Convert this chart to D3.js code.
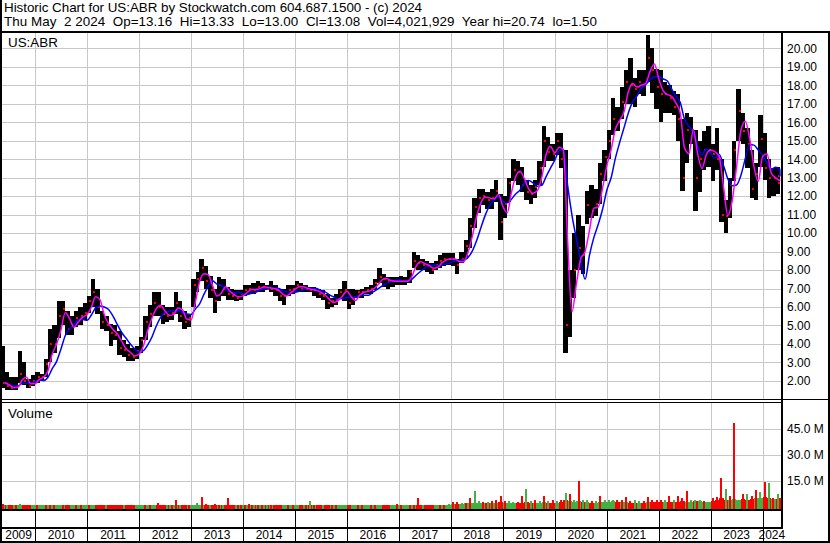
<!DOCTYPE html>
<html>
<head>
<meta charset="utf-8">
<script src="https://cdn.jsdelivr.net/npm/d3@7"></script>
<style>
  body { margin: 0; background: #fff; }
  svg { display: block; font-family: Arial, "Liberation Sans", sans-serif; }
  .hdr { font-size: 13.4px; }
  .axis text { font-size: 12px; fill: #000; font-family: Arial, "Liberation Sans", sans-serif; }
</style>
</head>
<body>
<div id="chart-area"></div>
<script>
/*
*    Historic chart for US:ABR, monthly bars May 2009 - May 2024
*/

let titleLine = "Historic Chart for US:ABR by Stockwatch.com 604.687.1500 - (c) 2024";
let infoLine = "Thu May  2 2024  Op=13.16  Hi=13.33  Lo=13.00  Cl=13.08  Vol=4,021,929  Year hi=20.74  lo=1.50";

// one value per month, first month is May 2009
let high = [
  3.9, 2.5, 2.2, 2.2, 3.6, 3.0, 2.1, 2.3,
  2.5, 2.4, 3.2, 4.8, 5.0, 6.3, 6.3, 5.8, 5.5, 5.8, 6.0, 6.2,
  6.6, 7.5, 7.0, 5.8, 5.5, 5.1, 5.0, 4.7, 4.2, 4.0, 3.8, 3.9,
  4.4, 5.5, 6.1, 6.8, 6.8, 6.1, 6.0, 6.0, 6.8, 6.3, 5.8, 5.6,
  7.5, 7.9, 8.6, 8.2, 7.7, 7.0, 7.6, 7.5, 7.1, 7.0, 6.9, 6.9,
  7.2, 7.2, 7.3, 7.4, 7.3, 7.2, 7.4, 7.2, 7.0, 7.0, 7.2, 7.2,
  7.4, 7.3, 7.2, 7.1, 7.1, 7.0, 6.9, 6.7, 6.5, 6.7, 7.0, 7.4,
  7.0, 7.0, 6.9, 7.0, 7.1, 7.2, 7.5, 8.1, 7.8, 7.6, 7.6, 7.6,
  7.7, 7.6, 8.0, 9.0, 8.8, 8.6, 8.5, 8.4, 8.5, 8.8, 8.9, 8.9,
  8.9, 8.6, 9.0, 9.6, 10.8, 11.9, 12.4, 12.4, 12.2, 12.4, 12.9, 12.1,
  12.0, 13.0, 14.0, 13.9, 13.6, 12.9, 12.6, 12.9, 13.9, 15.8, 15.2, 14.8,
  15.4, 15.4, 14.5, 8.0, 10.0, 11.0, 10.4, 12.3, 12.6, 12.4, 13.8, 14.5,
  15.6, 17.3, 16.8, 17.9, 18.8, 19.5, 18.4, 18.8, 18.8, 20.7, 20.0, 18.9,
  18.8, 18.2, 18.0, 17.7, 17.5, 16.2, 16.5, 16.3, 15.6, 15.0, 15.5, 15.8,
  14.8, 15.7, 14.0, 11.8, 13.0, 15.0, 17.8, 16.5, 15.7, 14.5, 13.8, 16.4,
  15.4, 14.0, 13.5, 13.6, 13.3
];

let low = [
  1.6, 1.5, 1.5, 1.5, 1.9, 1.8, 1.6, 1.7,
  1.9, 2.0, 2.2, 3.0, 3.5, 4.3, 5.0, 4.5, 4.5, 4.9, 5.0, 5.3,
  5.7, 6.0, 5.6, 4.8, 4.7, 3.9, 4.2, 3.4, 3.3, 3.1, 3.1, 3.2,
  3.5, 4.2, 4.9, 5.5, 5.5, 5.1, 5.2, 5.3, 5.6, 5.2, 4.8, 4.9,
  6.0, 6.8, 7.4, 7.0, 6.5, 5.7, 6.3, 6.6, 6.4, 6.4, 6.3, 6.4,
  6.6, 6.7, 6.7, 6.8, 6.8, 6.9, 6.8, 6.6, 6.3, 6.1, 6.6, 6.7,
  6.8, 6.8, 6.8, 6.8, 6.6, 6.5, 6.4, 5.9, 6.0, 6.1, 6.5, 6.3,
  5.9, 6.1, 6.5, 6.5, 6.7, 6.7, 6.9, 7.3, 7.1, 7.0, 7.1, 7.2,
  7.2, 7.2, 7.3, 8.1, 8.0, 8.0, 7.9, 7.8, 8.0, 8.1, 8.2, 8.3,
  8.2, 7.8, 8.4, 8.6, 9.2, 10.3, 11.1, 11.5, 11.3, 11.3, 11.7, 9.6,
  10.8, 11.7, 12.8, 12.6, 12.2, 11.8, 11.6, 11.9, 12.6, 13.6, 13.9, 13.9,
  14.2, 13.5, 3.5, 4.4, 6.5, 8.0, 7.8, 10.5, 10.8, 10.9, 11.6, 12.8,
  14.0, 15.3, 15.5, 16.2, 17.0, 17.0, 16.8, 17.5, 17.4, 18.2, 17.6, 16.7,
  16.0, 16.5, 16.5, 16.4, 15.0, 12.3, 13.8, 14.8, 11.2, 12.2, 13.4, 13.6,
  12.8, 13.4, 10.6, 10.0, 10.8, 12.8, 15.0, 14.8, 13.5, 11.9, 11.8, 13.6,
  12.9, 11.9, 12.0, 12.1, 12.6
];

let close = [
  1.9, 1.7, 1.6, 1.7, 2.4, 2.0, 1.7, 2.0,
  2.2, 2.2, 2.9, 4.0, 4.0, 5.5, 5.9, 4.8, 5.0, 5.4, 5.5, 5.7,
  6.3, 6.8, 6.0, 5.2, 5.0, 4.6, 4.5, 3.8, 3.7, 3.4, 3.3, 3.6,
  4.2, 5.2, 5.6, 6.2, 6.0, 5.6, 5.5, 5.7, 6.2, 5.5, 5.2, 5.4,
  7.2, 7.5, 8.1, 7.4, 6.9, 6.3, 7.2, 7.0, 6.7, 6.6, 6.5, 6.7,
  6.9, 7.0, 6.9, 7.1, 7.1, 7.0, 7.0, 6.9, 6.6, 6.6, 6.9, 7.0,
  7.2, 7.0, 7.0, 6.9, 6.9, 6.7, 6.6, 6.2, 6.3, 6.4, 6.8, 6.9,
  6.2, 6.5, 6.8, 6.8, 6.9, 7.0, 7.3, 7.6, 7.5, 7.4, 7.4, 7.4,
  7.4, 7.4, 7.9, 8.5, 8.4, 8.3, 8.2, 8.0, 8.3, 8.5, 8.6, 8.6,
  8.6, 8.3, 8.6, 9.3, 10.4, 11.4, 11.9, 12.0, 11.8, 11.9, 12.3, 10.6,
  11.6, 12.7, 13.4, 13.3, 12.6, 12.2, 12.1, 12.5, 13.5, 15.0, 14.4, 14.3,
  15.0, 14.0, 5.0, 6.5, 8.0, 9.2, 8.8, 11.5, 11.2, 11.6, 13.2, 14.1,
  15.0, 16.2, 16.0, 17.1, 18.2, 18.0, 17.8, 18.2, 18.0, 19.5, 18.8, 17.9,
  17.5, 17.5, 17.3, 16.8, 16.2, 13.0, 15.6, 15.6, 13.0, 14.0, 14.5, 14.5,
  14.3, 14.0, 11.0, 10.9, 12.6, 14.5, 16.6, 15.5, 14.8, 12.4, 13.2, 15.1,
  13.5, 13.0, 13.0, 12.7, 13.1
];

// volume in millions: usual daily level and the biggest day of the month
let volBase = [
  0.8, 0.8, 0.8, 0.8, 0.8, 0.8, 0.8, 0.8,
  0.6, 0.6, 0.6, 0.6, 0.6, 0.6, 0.6, 0.6, 0.6, 0.6, 0.6, 0.6,
  0.6, 0.6, 0.6, 0.6, 0.6, 0.6, 0.6, 0.6, 0.6, 0.6, 0.6, 0.6,
  0.6, 0.6, 0.6, 0.6, 0.6, 0.6, 0.6, 0.6, 0.6, 0.6, 0.6, 0.6,
  0.7, 0.7, 0.8, 0.7, 0.7, 0.7, 0.7, 0.6, 0.7, 0.6, 0.6, 0.6,
  0.6, 0.6, 0.6, 0.6, 0.6, 0.6, 0.6, 0.6, 0.6, 0.6, 0.6, 0.6,
  0.6, 0.6, 0.6, 0.7, 0.6, 0.6, 0.6, 0.6, 0.6, 0.6, 0.6, 0.6,
  0.6, 0.6, 0.6, 0.6, 0.6, 0.6, 0.6, 0.6, 0.6, 0.6, 0.6, 0.6,
  0.6, 0.6, 0.6, 0.7, 0.7, 0.7, 0.7, 0.7, 0.8, 0.8, 0.9, 1.0,
  1.5, 1.5, 1.5, 1.8, 2.0, 2.2, 2.0, 2.0, 2.0, 2.2, 2.2, 2.5,
  2.2, 2.2, 2.0, 2.0, 2.2, 2.5, 2.0, 2.2, 2.2, 2.5, 2.2, 2.2,
  2.2, 2.5, 3.5, 3.0, 2.5, 3.0, 2.5, 2.5, 2.2, 2.2, 2.5, 2.5,
  2.5, 3.0, 2.8, 2.5, 2.5, 2.2, 2.2, 2.2, 2.2, 2.5, 2.5, 2.5,
  2.5, 2.5, 2.8, 2.5, 2.8, 3.0, 2.8, 2.5, 3.0, 3.0, 2.8, 2.8,
  3.0, 3.5, 5.0, 4.0, 3.5, 4.5, 4.0, 4.5, 4.0, 4.5, 5.0, 5.0,
  5.5, 5.0, 4.5, 4.5, 4.5
];

let volPeak = [
  1.6, 0.9, 0.8, 0.8, 1.6, 1.0, 0.8, 0.8,
  0.8, 0.9, 0.7, 0.8, 0.7, 0.8, 0.7, 0.6, 0.7, 0.6, 0.6, 0.6,
  0.7, 0.7, 0.7, 0.7, 0.7, 0.7, 0.7, 0.7, 0.7, 0.7, 0.7, 0.7,
  0.7, 0.7, 0.7, 0.8, 2.0, 0.8, 0.7, 0.8, 3.5, 0.8, 0.8, 0.8,
  1.0, 2.0, 5.6, 1.2, 1.0, 1.2, 0.9, 0.8, 5.0, 0.8, 0.8, 0.8,
  0.8, 1.2, 0.7, 0.7, 0.7, 0.7, 0.7, 0.7, 0.7, 0.7, 0.7, 0.7,
  0.7, 0.7, 0.7, 3.3, 0.7, 0.7, 0.7, 0.7, 0.7, 0.7, 0.7, 0.9,
  0.7, 0.7, 0.7, 0.7, 0.7, 0.7, 0.7, 0.7, 0.7, 0.7, 0.7, 1.2,
  0.7, 0.7, 0.7, 0.8, 5.0, 0.8, 0.7, 0.7, 0.8, 0.8, 1.0, 1.6,
  2.6, 2.6, 2.0, 2.2, 5.0, 8.8, 3.0, 2.5, 2.5, 3.0, 4.0, 6.0,
  3.0, 3.1, 2.5, 2.5, 6.3, 10.0, 3.0, 3.5, 3.0, 6.3, 3.0, 3.5,
  3.0, 4.0, 7.9, 7.0, 4.0, 14.9, 3.5, 3.5, 3.0, 3.0, 6.0, 3.5,
  3.5, 4.0, 4.0, 4.0, 5.2, 3.0, 3.5, 3.0, 3.0, 5.6, 3.5, 3.5,
  3.5, 3.5, 6.0, 3.5, 6.3, 5.0, 9.2, 3.5, 3.5, 3.5, 3.0, 2.8,
  5.0, 5.5, 16.2, 10.3, 6.0, 48.0, 4.0, 7.3, 7.3, 6.0, 9.6, 8.3,
  13.9, 13.4, 5.0, 7.3, 5.0
];

// 1 = up day (green), 0 = down day (red) for the biggest day
let volUp = [
  0, 1, 0, 0, 1, 0, 0, 1,
  0, 1, 0, 0, 0, 1, 0, 0, 1, 0, 0, 1,
  0, 1, 0, 0, 1, 0, 0, 0, 1, 0, 0, 1,
  1, 0, 0, 1, 0, 0, 1, 0, 0, 1, 0, 0,
  1, 1, 0, 0, 1, 0, 0, 1, 0, 0, 1, 0,
  0, 0, 1, 0, 0, 1, 0, 0, 0, 1, 0, 0,
  1, 0, 0, 1, 0, 0, 1, 0, 0, 0, 1, 1,
  0, 1, 0, 0, 1, 0, 0, 1, 0, 0, 1, 0,
  0, 1, 0, 0, 0, 1, 0, 0, 1, 0, 0, 1,
  0, 0, 1, 0, 0, 1, 1, 0, 1, 0, 0, 0,
  0, 1, 1, 0, 0, 1, 1, 0, 1, 0, 1, 0,
  1, 0, 1, 0, 1, 0, 1, 1, 0, 1, 0, 1,
  1, 1, 0, 0, 0, 0, 1, 1, 0, 0, 0, 0,
  0, 1, 0, 1, 0, 0, 0, 1, 1, 1, 0, 1,
  0, 0, 0, 1, 0, 0, 1, 0, 1, 0, 0, 1,
  0, 1, 0, 1, 0
];

let priceTicks = [2, 3, 4, 5, 6, 7, 8, 9, 10, 11, 12, 13, 14, 15, 16, 17, 18, 19, 20];
let volTicks = [15, 30, 45];
let years = d3.range(2009, 2025);

let x = d3.scaleTime().domain([new Date(2009, 4, 13), new Date(2024, 4, 2)]).range([2, 780]);
let y = d3.scaleLinear().domain([1, 20]).range([399.4, 48.3]);
let yv = d3.scaleLinear().domain([0, 45]).range([506.5, 428.5]);

let gridColor = "#c8c8c8";
let green = "#43b043";

let svg = d3.select("#chart-area").append("svg").attr("width", 830).attr("height", 543);

let defs = svg.append("defs");
defs.append("clipPath").attr("id", "clipPrice").append("rect").attr("x", 2).attr("y", 33).attr("width", 779).attr("height", 366);
defs.append("clipPath").attr("id", "clipVol").append("rect").attr("x", 2).attr("y", 403).attr("width", 779).attr("height", 106);

// header, stretched to the reference line widths so the double spaces show
svg.append("text").attr("class", "hdr").attr("x", 4).attr("y", 12)
    .attr("textLength", 418).attr("lengthAdjust", "spacing")
    .text(titleLine);
svg.append("text").attr("class", "hdr").attr("x", 4).attr("y", 26)
    .attr("textLength", 593).attr("lengthAdjust", "spacing")
    .attr("xml:space", "preserve").style("white-space", "pre")
    .text(infoLine);

// year boundaries
let yearStarts = years.slice(1).map(yr => new Date(yr, 0, 1));

// grid, price panel
let grid = svg.append("g").attr("shape-rendering", "crispEdges").attr("stroke", gridColor).attr("stroke-width", 1);
grid.selectAll(".hp").data(priceTicks).enter().append("line")
    .attr("x1", 2).attr("x2", 781)
    .attr("y1", d => Math.round(y(d)) + 0.5).attr("y2", d => Math.round(y(d)) + 0.5);
grid.selectAll(".vp").data(yearStarts).enter().append("line")
    .attr("x1", d => Math.round(x(d)) + 0.5).attr("x2", d => Math.round(x(d)) + 0.5)
    .attr("y1", 33).attr("y2", 399);
// grid, volume panel
grid.selectAll(".hv").data(volTicks).enter().append("line")
    .attr("x1", 2).attr("x2", 781)
    .attr("y1", d => Math.round(yv(d)) + 0.5).attr("y2", d => Math.round(yv(d)) + 0.5);
grid.selectAll(".vv").data(yearStarts).enter().append("line")
    .attr("x1", d => Math.round(x(d)) + 0.5).attr("x2", d => Math.round(x(d)) + 0.5)
    .attr("y1", 403).attr("y2", 509);

// monthly bars
let bars = close.map((c, i) => ({
  x0: Math.max(x(new Date(2009, 4 + i, 1)), 2),
  x1: Math.min(x(new Date(2009, 5 + i, 1)), 780),
  hi: high[i], lo: low[i], cl: c,
  up: i === 0 ? true : c >= close[i - 1]
}));

let price = svg.append("g").attr("clip-path", "url(#clipPrice)");

price.selectAll(".bar").data(bars).enter().append("rect")
    .attr("x", d => d.x0)
    .attr("width", d => d.x1 - d.x0)
    .attr("y", d => y(d.hi))
    .attr("height", d => y(d.lo) - y(d.hi))
    .attr("fill", "#000")
    .attr("shape-rendering", "crispEdges");

price.selectAll(".tick-cl").data(bars).enter().append("rect")
    .attr("x", d => d.x1 - 2)
    .attr("width", 2)
    .attr("y", d => y(d.cl) - 1)
    .attr("height", 2)
    .attr("fill", "red")
    .attr("shape-rendering", "crispEdges");

// moving averages of the monthly closes
function sma(arr, n) {
  return arr.map((d, i) => d3.mean(arr.slice(Math.max(0, i - n + 1), i + 1)));
}
let maShort = sma(close, 2);
let maLong = sma(close, 5);

let maLine = d3.line()
    .x((d, i) => bars[i].x1)
    .y(d => y(d))
    .curve(d3.curveMonotoneX);

price.append("path").attr("d", maLine(maLong))
    .attr("fill", "none").attr("stroke", "#0000ff").attr("stroke-width", 1.5);
price.append("path").attr("d", maLine(maShort))
    .attr("fill", "none").attr("stroke", "#ff00ff").attr("stroke-width", 1.5);

// volume
let vol = svg.append("g").attr("clip-path", "url(#clipVol)").attr("shape-rendering", "crispEdges");
vol.selectAll(".vb").data(bars).enter().append("rect")
    .attr("x", d => d.x0)
    .attr("width", d => d.x1 - d.x0)
    .attr("y", (d, i) => yv(volBase[i]))
    .attr("height", (d, i) => 509 - yv(volBase[i]))
    .attr("fill", d => d.up ? green : "red");
vol.selectAll(".vpk").data(bars).enter().append("rect")
    .attr("x", d => (d.x0 + d.x1) / 2 - 1)
    .attr("width", 2)
    .attr("y", (d, i) => yv(volPeak[i]))
    .attr("height", (d, i) => 509 - yv(volPeak[i]))
    .attr("fill", (d, i) => volUp[i] ? green : "red");

// panel labels
svg.append("text").attr("class", "hdr").attr("x", 8).attr("y", 47).text("US:ABR");
svg.append("text").attr("class", "hdr").attr("x", 8).attr("y", 418).text("Volume");

// axes on the right
let yAxis = d3.axisRight(y).tickValues(priceTicks).tickSize(0).tickPadding(5).tickFormat(d => d.toFixed(2));
svg.append("g").attr("class", "axis").attr("transform", "translate(782,0)").call(yAxis)
    .call(g => g.select(".domain").remove());

let vAxis = d3.axisRight(yv).tickValues(volTicks).tickSize(0).tickPadding(5).tickFormat(d => d.toFixed(1) + " M");
svg.append("g").attr("class", "axis").attr("transform", "translate(782,0)").call(vAxis)
    .call(g => g.select(".domain").remove());

// frame
let frame = svg.append("g").attr("fill", "#000").attr("shape-rendering", "crispEdges");
frame.append("rect").attr("x", 0).attr("y", 0).attr("width", 2).attr("height", 543);
frame.append("rect").attr("x", 0).attr("y", 31).attr("width", 830).attr("height", 2);
frame.append("rect").attr("x", 781).attr("y", 33).attr("width", 2).attr("height", 494);
frame.append("rect").attr("x", 828).attr("y", 31).attr("width", 2).attr("height", 512);
frame.append("rect").attr("x", 0).attr("y", 399).attr("width", 830).attr("height", 1);
frame.append("rect").attr("x", 0).attr("y", 402).attr("width", 783).attr("height", 1);
frame.append("rect").attr("x", 0).attr("y", 509).attr("width", 783).attr("height", 2);
frame.append("rect").attr("x", 0).attr("y", 527).attr("width", 783).attr("height", 2);
frame.append("rect").attr("x", 0).attr("y", 541).attr("width", 830).attr("height", 2);

// year separators in the date rows
frame.selectAll(".ys").data(yearStarts).enter().append("rect")
    .attr("x", d => Math.round(x(d)))
    .attr("y", 511).attr("width", 1).attr("height", 30);

// year labels, centred in each year's span
let xAxisG = svg.append("g").attr("class", "axis");
xAxisG.selectAll("text").data(years).enter().append("text")
    .attr("x", yr => {
      let a = Math.max(x(new Date(yr, 0, 1)), 2);
      let b = Math.min(x(new Date(yr + 1, 0, 1)), 781);
      return (a + b) / 2;
    })
    .attr("y", 539)
    .attr("text-anchor", "middle")
    .text(yr => yr);
</script>
</body>
</html>
